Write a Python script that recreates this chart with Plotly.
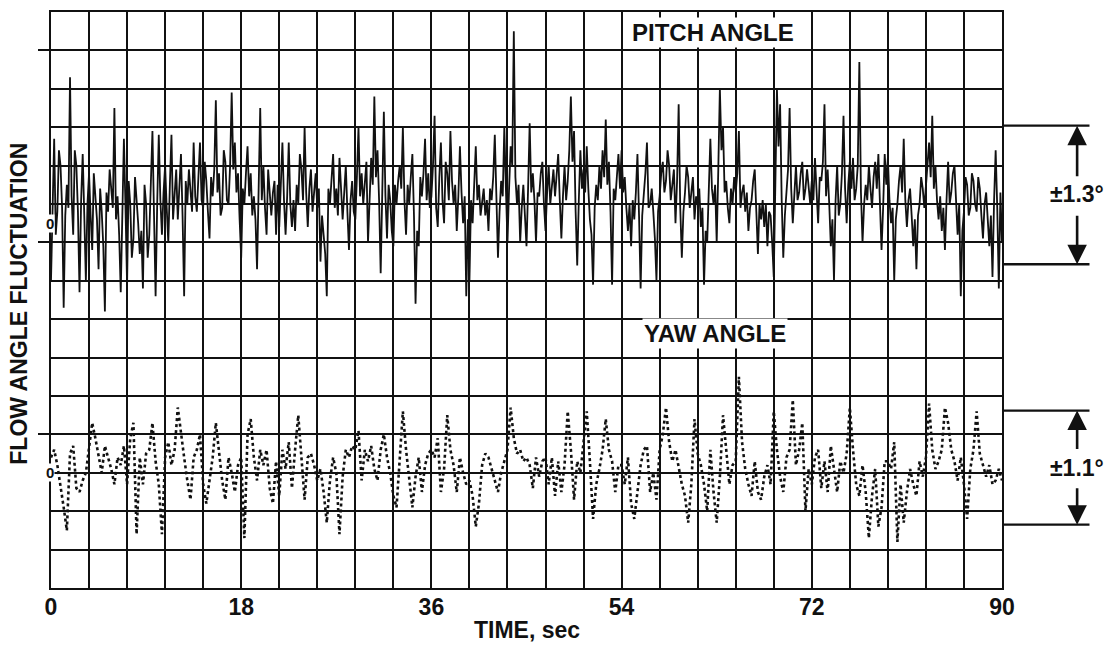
import plotly.graph_objects as go

# pen deflection, in grid divisions from each trace's zero line
# pitch read every 0.15 s, yaw every 0.3 s, 0 .. 90 s
PITCH_STEP = 0.15
YAW_STEP = 0.3

pitch = [
    -1.5, 0.8, 2.2, -0.3, 0.3, 1.9, 1.5, 0.4, -2.2, 0.2, 1.0, 0.4, 3.8, 0.7, -0.3, 1.9, 1.5, 0.3, -1.8, 0.6, 1.8, 0.2, -1.5, 0.5,
    1.3, 0.2, -0.7, 1.3, 0.8, 0.1, -1.2, 0.9, 0.3, -0.6, -2.3, 0.8, 0.3, 1.4, 0.9, 0.4, 3.0, 0.1, 0.7, -0.3, -1.8, 0.5, 2.2, 0.4,
    -1.6, 1.1, 0.5, -0.9, -0.4, 1.2, 0.7, 0.0, -0.8, -0.2, -1.7, 1.0, 0.5, -0.9, -0.3, 0.9, 2.4, 0.2, -1.9, 0.5, 2.3, 0.6, -0.3, 0.8,
    1.5, 0.4, -0.5, 1.0, 2.3, 0.1, 0.7, 1.4, 0.1, 0.9, 1.8, 0.2, -1.9, 1.1, 0.5, 1.4, 0.9, 0.3, 2.1, 0.7, 0.3, 1.3, 2.1, 0.6,
    0.4, 1.6, 1.1, 0.3, -0.4, 1.2, 0.7, 1.4, 3.2, 0.8, 1.3, 0.2, 0.4, 1.9, 1.6, 0.6, 0.5, 1.5, 3.4, 1.4, 2.1, 0.8, 1.3, 0.1,
    -0.9, 0.9, 0.5, 1.3, 2.0, 0.7, 1.3, 0.2, 0.7, 0.1, -1.2, 0.9, 3.0, 0.6, 1.5, 0.4, -0.3, 1.4, 0.9, 0.2, 0.8, 1.1, -0.3, 1.0,
    -0.1, 0.9, 2.1, 0.6, -0.3, 0.7, 2.1, 0.5, -0.1, 0.6, -0.2, 1.0, 0.5, 1.8, 1.4, 0.6, 2.5, 0.8, -0.1, 0.9, 1.4, 0.3, 0.8, 1.3,
    0.4, 0.9, -1.0, 0.2, -0.3, -0.8, -1.9, 0.9, 0.5, 1.1, 1.8, 0.4, 0.9, 0.2, 1.7, 0.9, 0.1, 0.8, 1.5, 0.3, -0.7, 0.6, 1.1, 0.3,
    0.1, 1.2, 2.5, 0.7, 1.3, 0.5, 1.1, 1.6, -0.5, 0.9, 1.7, 1.0, 3.3, 1.2, 1.9, 0.6, -1.3, 0.8, 2.9, 0.7, -0.4, 1.0, 0.6, -0.2,
    -0.6, 1.0, 0.5, 1.1, 1.5, 0.9, 2.5, 0.6, -0.3, 1.0, 0.5, 1.2, 1.8, 0.2, -2.1, -0.2, -0.6, 1.2, 0.7, 1.3, 2.2, 0.6, 1.3, 0.4,
    0.7, 1.5, 2.8, 0.4, -0.1, 1.2, 2.1, 0.6, 0.0, 1.6, 1.3, 0.6, 2.4, 1.1, 0.5, 1.0, -0.2, 0.7, 2.0, 0.8, 0.0, 0.7, -1.9, 0.1,
    -1.5, 0.6, 0.0, 1.0, 2.0, 0.6, 1.0, 0.2, 0.5, 0.9, 0.2, 0.6, -0.2, 0.9, 0.6, 1.2, 2.3, 0.3, -0.9, 0.3, 1.1, 0.7, 2.5, 0.9,
    -0.5, 0.9, 2.0, 1.5, 5.0, 1.2, 0.5, 1.0, -0.5, 0.4, 1.0, 0.2, -0.6, 0.9, 2.6, 0.8, 1.3, 0.6, -0.5, 0.8, 0.7, 1.3, 1.6, 0.5,
    -0.2, 0.8, 1.5, 0.5, 1.0, 1.4, 0.7, 1.2, 1.8, 0.6, -0.4, 0.7, 1.5, 0.6, 1.1, 1.9, 3.3, 1.6, 2.4, 0.3, -1.1, 0.6, 1.9, 0.9,
    1.4, 0.8, 2.0, 0.9, 0.1, -0.3, -1.6, 0.4, 1.0, 0.6, 1.5, 0.9, 1.9, 1.2, 2.7, 1.0, 1.6, 0.3, -1.6, 0.9, 0.6, 1.2, 1.8, 0.9,
    1.9, 0.8, 1.2, 0.4, -0.2, 0.5, -0.6, 0.6, 0.1, 0.8, 1.8, 0.2, -1.7, 0.2, 0.7, 1.3, 2.1, 0.4, 0.5, 0.9, 0.3, -0.4, -1.5, 0.3,
    0.7, 1.3, 1.6, 0.8, 1.1, 1.9, 1.5, 0.6, 1.0, 1.4, 0.0, 1.1, 3.1, 0.4, -0.9, 0.3, 0.8, 1.5, 1.2, 0.4, 0.8, 1.2, 0.1, 0.7,
    0.5, 0.9, -0.1, 0.4, -1.6, -0.2, -0.5, 0.8, 2.2, 0.9, 0.5, 1.0, -0.5, 1.4, 3.5, 1.9, 2.5, 0.8, 1.1, 0.4, 0.0, 0.9, 0.5, 1.2,
    0.8, 1.3, 2.4, 0.4, 0.8, 1.0, 0.3, 0.8, -0.2, 0.4, 0.6, 1.1, 1.4, 0.3, -0.8, 0.5, 0.1, 0.6, -0.1, 0.5, -0.6, 0.3, 0.2, -0.5,
    -1.4, 1.0, 3.5, 2.0, 3.1, 0.6, -0.9, 0.2, 0.7, 1.4, 3.0, 0.9, 0.0, 0.9, 1.5, 0.6, 0.8, 1.3, 1.6, 0.6, 0.9, 1.4, 1.0, 0.5,
    1.1, 0.6, 1.7, 0.8, 0.0, 1.2, 1.1, 1.6, 3.1, 0.7, 1.4, 0.5, -0.6, 0.1, -1.5, 0.6, 1.5, 0.2, 0.5, 1.3, 2.8, 0.9, 0.0, 1.0,
    1.6, 0.9, 1.7, 0.6, 0.9, 1.5, 4.2, 0.8, -0.5, 0.5, 1.0, 0.6, 1.5, 0.9, 0.4, 1.2, 1.6, 0.9, 1.8, 0.5, -0.7, 0.4, 1.8, 1.0,
    1.7, 0.6, 0.0, 0.4, -1.5, 0.1, 0.5, 1.1, 1.5, 0.8, 2.2, 0.6, -0.1, 0.6, 0.9, 0.2, -0.6, 0.1, -1.2, 0.2, 0.5, 1.2, 0.9, 0.4,
    1.0, 1.6, 2.1, 1.2, 2.8, 0.9, 1.5, 0.6, 0.1, 0.7, -0.2, 0.4, -0.7, 0.6, 1.6, 0.5, 0.8, 1.3, 1.5, 0.6, -0.3, 0.5, -1.9, -0.2,
    0.3, 1.2, 1.0, 0.2, 0.4, 1.3, 1.1, 0.5, 0.3, 1.2, 0.9, 0.2, -0.4, 0.5, 0.8, 0.1, -0.6, 0.2, -1.4, 0.6, 1.9, 0.4, -1.7, 0.8, -0.5,
]

yaw = [
    0.4, 0.6, 0.2, -0.3, -0.9, -1.5, 0.5, 0.7, -0.4, -0.5, -0.2, 0.0,
    0.6, 1.3, 0.9, 0.4, 0.0, 0.7, 0.4, 0.1, -0.3, 0.4, 0.2, 0.7,
    -0.3, 0.9, 1.3, -1.6, 0.4, -0.3, 0.5, 0.6, 1.3, 0.3, -0.3, -1.6,
    0.4, 0.8, 0.2, 0.6, 1.7, 1.0, 0.4, -0.2, -0.7, 0.4, 0.6, 1.0,
    -0.3, -0.8, -0.2, 0.4, 1.3, 0.6, -0.2, -0.7, 0.4, 0.0, -0.5, 0.2,
    0.4, -1.7, 1.0, 1.4, 0.4, -0.2, 0.6, 0.2, 0.6, -0.4, -0.8, 0.3,
    -0.6, 0.6, 0.1, 0.8, -0.4, 0.6, 1.5, 0.4, -0.7, 0.4, 0.5, 0.2,
    -0.2, 0.1, -0.5, -1.3, -0.2, 0.4, 0.0, -1.6, -0.1, 0.6, 0.4, 0.7,
    0.6, 1.1, -0.2, 0.6, 0.3, 0.7, 0.1, -0.2, 0.6, 1.0, 0.4, 0.0,
    -0.6, -0.9, 0.4, 1.6, 0.6, -0.2, -0.9, -0.1, 0.4, -0.5, 0.2, 0.5,
    0.6, 0.4, 0.9, -0.5, 0.1, 1.5, 0.6, 0.2, -0.5, 0.4, 0.0, -0.3,
    -0.2, -0.6, -1.4, -0.8, 0.2, 0.5, 0.4, 0.1, -0.2, -0.5, 0.0, 0.3,
    0.6, 1.7, 0.9, 0.5, 0.6, 0.3, 0.4, 0.2, -0.4, 0.4, -0.1, 0.3,
    0.4, -0.3, 0.4, -0.6, 0.3, -0.5, 0.2, 1.6, 0.6, -0.7, 0.3, 0.0,
    0.8, 1.6, 0.3, -1.2, -0.3, 0.1, 0.6, 1.4, 0.6, 0.3, -0.5, 0.2,
    0.2, -0.3, 0.4, -0.8, -1.2, -0.5, 0.2, 0.6, 0.7, -0.5, 0.0, -0.7,
    0.6, 1.0, 1.7, 0.8, 0.3, 0.6, 0.1, -0.3, -0.6, -1.3, -0.3, 1.4,
    0.5, 0.2, -0.3, -1.0, 0.6, -0.5, -1.3, -0.1, 1.5, 0.5, -0.3, 0.2,
    0.3, 2.5, 0.8, 0.1, -0.3, -0.6, 0.3, -0.5, -0.7, -0.1, 0.2, -0.3,
    1.6, 0.6, -0.1, -0.5, 0.4, 0.6, 1.9, 0.2, 0.6, 1.3, -1.0, 0.1,
    -0.3, 0.4, 0.6, -0.4, 0.3, -0.5, 0.7, 0.1, -0.5, 0.3, 0.0, 0.5,
    1.7, 0.6, -0.3, -0.6, 0.2, -0.5, -1.7, -0.6, 0.1, -1.4, -0.9, 0.3,
    0.3, 0.1, 0.8, -1.8, -0.3, -1.3, -0.5, 0.1, -0.3, -0.6, 0.3, -0.1,
    0.4, 1.8, 0.6, 0.1, 0.3, 0.6, 1.7, 1.3, 0.6, 0.3, -0.2, 0.4,
    -0.3, -1.2, 0.1, 0.6, 1.6, 0.5, 0.2, -0.1, 0.2, -0.3, -0.2, 0.1, -0.2,
]

time_ticks = [0, 18, 36, 54, 72, 90]

tp = [round(i * PITCH_STEP, 3) for i in range(len(pitch))]
ty = [round(i * YAW_STEP, 3) for i in range(len(yaw))]

FONT = "Liberation Sans, Arial, sans-serif"
INK = "#111111"

fig = go.Figure()
fig.add_trace(go.Scatter(x=tp, y=pitch, mode="lines",
                         line=dict(color=INK, width=1.8), yaxis="y"))
fig.add_trace(go.Scatter(x=ty, y=yaw, mode="lines",
                         line=dict(color=INK, width=2.6, dash="3px,3px"), yaxis="y2"))

fig.update_layout(
    width=1115, height=648,
    margin=dict(l=51, r=113, t=10, b=60),
    paper_bgcolor="white", plot_bgcolor="white",
    showlegend=False,
    font=dict(family=FONT, color=INK),
    xaxis=dict(range=[0, 90], tickvals=time_ticks, ticks="",
               showgrid=True, gridcolor=INK, gridwidth=1.6,
               minor=dict(dtick=3.6, tick0=0, showgrid=True, gridcolor=INK, gridwidth=1.6),
               showline=True, linecolor=INK, linewidth=2, mirror=True,
               zeroline=False, ticklabelstandoff=-3,
               tickfont=dict(size=23, weight="bold")),
    yaxis=dict(range=[-9.5, 5.5], tickvals=[4.5, -0.5, -5.5], ticks="outside",
               ticklen=11, tickwidth=1.6, tickcolor=INK, showticklabels=False,
               showgrid=False,
               minor=dict(dtick=1, tick0=0.5, showgrid=True, gridcolor=INK, gridwidth=1.6),
               showline=True, linecolor=INK, linewidth=2, mirror=True,
               zeroline=False),
    yaxis2=dict(range=[-3, 12], overlaying="y", showgrid=False, showticklabels=False,
                zeroline=False, ticks=""),
)

bold = dict(family=FONT, size=23, color=INK, weight="bold")
big = dict(bold, size=24)
small = dict(family=FONT, size=15, color=INK, weight="bold")
mid = dict(xanchor="center", yanchor="middle", showarrow=False)
ann = [
    dict(mid, text="FLOW ANGLE FLUCTUATION", xref="paper", yref="paper", x=-0.034, y=0.493,
         textangle=-90, font=bold),
    dict(mid, text="TIME, sec", xref="paper", yref="paper", x=0.5005, y=-0.073, font=bold),
    dict(mid, text="PITCH ANGLE", xref="paper", yref="paper", x=0.696, y=0.965,
         font=big, bgcolor="white", borderpad=1),
    dict(mid, text="YAW ANGLE", xref="paper", yref="paper", x=0.698, y=0.441,
         font=big, bgcolor="white", borderpad=1),
    dict(mid, text="0", xref="paper", yref="y", x=-0.001, y=0, font=small,
         bgcolor="white", borderpad=0),
    dict(mid, text="0", xref="paper", yref="y2", x=-0.001, y=0, font=small,
         bgcolor="white", borderpad=0),
    dict(mid, text="±1.3°", xref="paper", yref="y", x=1.079, y=0.75, font=bold),
    dict(mid, text="±1.1°", xref="paper", yref="y2", x=1.079, y=0.13, font=bold),
]

# bracket arrows: tip on the bracket line, tail toward the label
arrow = dict(xref="paper", x=1.079, text="", showarrow=True, arrowhead=2,
             arrowsize=1.5, arrowwidth=2.6, arrowcolor=INK, ax=0)
ann += [
    dict(arrow, yref="y", y=2.54, ay=52),
    dict(arrow, yref="y", y=-1.07, ay=-50),
    dict(arrow, yref="y2", y=1.62, ay=40),
    dict(arrow, yref="y2", y=-1.35, ay=-38),
]
fig.update_layout(annotations=ann)

line = dict(type="line", xref="paper", x0=1.002, x1=1.092, line=dict(color=INK, width=2.4))
fig.update_layout(shapes=[
    dict(line, yref="y", y0=2.54, y1=2.54),
    dict(line, yref="y", y0=-1.07, y1=-1.07),
    dict(line, yref="y2", y0=1.62, y1=1.62),
    dict(line, yref="y2", y0=-1.35, y1=-1.35),
])

# drop the page's default body margin so the figure fills the window
fig.write_html("out.html", config={"displayModeBar": False},
               post_script="document.body.style.margin='0';")
